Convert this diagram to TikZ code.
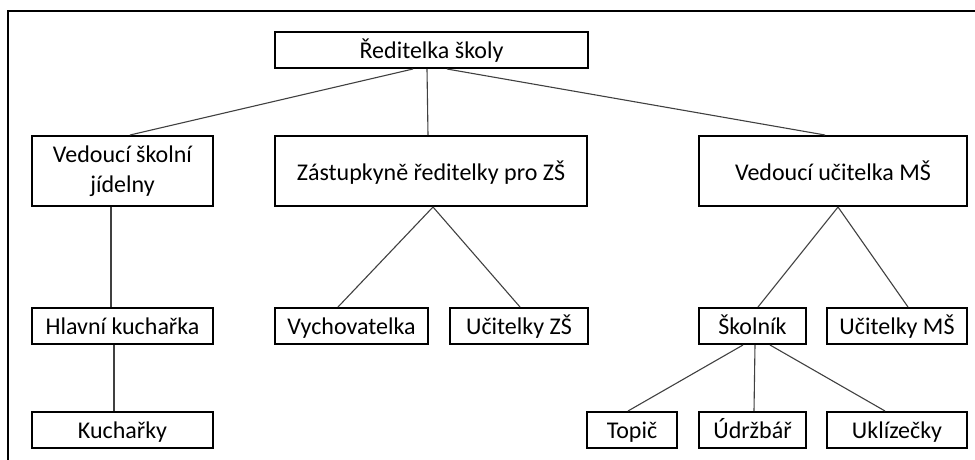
\documentclass[tikz,border=0pt]{standalone}
\usepackage{fontspec}
\setmainfont{Carlito}
\begin{document}
\begin{tikzpicture}[x=1pt,y=-1pt,
  box/.style={draw=black, line width=2pt, inner sep=0pt, align=center, font=\fontsize{24}{30}\selectfont},
  sbox/.style={box, minimum height=36pt, text height=22pt, text depth=5pt},
  bbox/.style={box, minimum height=70pt},
  link/.style={draw=black!75, line width=1.1pt}]
\useasboundingbox (0,0) rectangle (975,460);
\draw[line width=2pt] (8,462) -- (8,11) -- (977,11);
\node[sbox, minimum width=313pt] (dir) at (431.5,50) {Ředitelka školy};
\node[bbox, minimum width=181pt] (vsj) at (122.5,171) {Vedoucí školní\\jídelny};
\node[bbox, minimum width=312pt, text height=22pt, text depth=4pt] (zas) at (431,171) {Zástupkyně ředitelky pro ZŠ};
\node[bbox, minimum width=268pt, text height=22pt, text depth=4pt] (vum) at (833,171) {Vedoucí učitelka MŠ};
\node[sbox, minimum width=181pt] (hk) at (122.5,326) {Hlavní kuchařka};
\node[sbox, minimum width=181pt] (kuch) at (122.5,430) {Kuchařky};
\node[sbox, minimum width=153pt] (vych) at (351.5,326) {Vychovatelka};
\node[sbox, minimum width=138pt] (uzs) at (519,326) {Učitelky ZŠ};
\node[sbox, minimum width=107pt] (skol) at (752.5,326) {Školník};
\node[sbox, minimum width=140pt] (ums) at (897,326) {Učitelky MŠ};
\node[sbox, minimum width=90pt] (topic) at (632,430) {Topič};
\node[sbox, minimum width=107pt] (udrz) at (752.5,430) {Údržbář};
\node[sbox, minimum width=140pt] (ukl) at (897,430) {Uklízečky};
\draw[link] ([xshift=-18.5pt]dir.south) -- ([xshift=7.5pt]vsj.north);
\draw[link] ([xshift=-4.5pt]dir.south) -- ([xshift=-3pt]zas.north);
\draw[link] ([xshift=15.5pt]dir.south) -- ([xshift=-8pt]vum.north);
\draw[link] ([xshift=-11.5pt]vsj.south) -- ([xshift=-11.5pt]hk.north);
\draw[link] ([xshift=-8.5pt]hk.south) -- ([xshift=-8.5pt]kuch.north);
\draw[link] ([xshift=2pt]zas.south) -- ([xshift=-13.5pt]vych.north);
\draw[link] ([xshift=2pt]zas.south) -- ([xshift=1pt]uzs.north);
\draw[link] ([xshift=5pt]vum.south) -- ([xshift=5.5pt]skol.north);
\draw[link] ([xshift=5pt]vum.south) -- ([xshift=11pt]ums.north);
\draw[link] ([xshift=-9.5pt]skol.south) -- ([xshift=-4pt]topic.north);
\draw[link] ([xshift=2.5pt]skol.south) -- ([xshift=1.5pt]udrz.north);
\draw[link] ([xshift=17.5pt]skol.south) -- ([xshift=-12pt]ukl.north);
\end{tikzpicture}
\end{document}
